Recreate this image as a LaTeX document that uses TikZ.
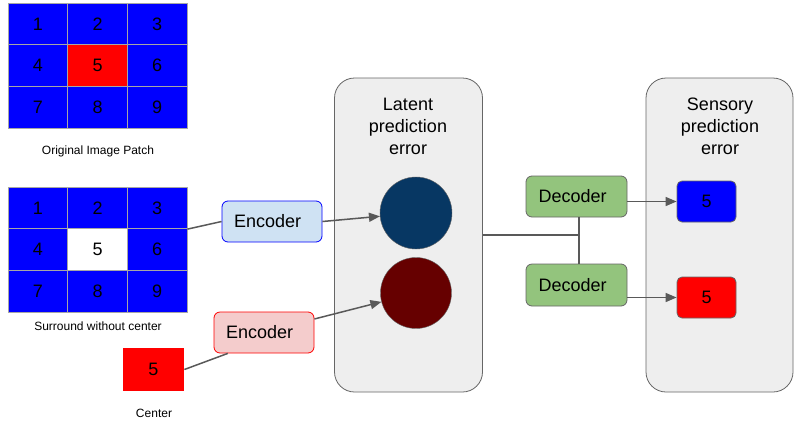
\documentclass[tikz,border=0pt]{standalone}
\usepackage{fontspec}
\setmainfont{Liberation Sans}
\usetikzlibrary{positioning}
\usetikzlibrary{arrows.meta}

\definecolor{encblue}{HTML}{CFE2F3}
\definecolor{encred}{HTML}{F4CCCC}
\definecolor{decgreen}{HTML}{93C47D}
\definecolor{darkblue}{HTML}{073763}
\definecolor{darkred}{HTML}{660000}
\definecolor{panelgray}{HTML}{EEEEEE}
\definecolor{linegray}{HTML}{595959}

\begin{document}
\begin{tikzpicture}[x=1pt,y=-1pt,
  cell/.style={draw=gray!70, line width=0.8pt, inner sep=0pt, minimum width=59.7pt, minimum height=41.7pt, font=\fontsize{18}{22}\selectfont},
  caption/.style={font=\fontsize{12}{14}\selectfont},
  block/.style={draw, rounded corners=6pt, line width=0.8pt, inner sep=0pt, minimum width=100pt, minimum height=41pt, text width=92pt, font=\fontsize{18}{22}\selectfont},
  panel/.style={draw=gray!80!black, fill=panelgray, rounded corners=20pt, line width=0.8pt, minimum width=148pt, minimum height=314pt},
  title/.style={align=center, font=\fontsize{18}{22}\selectfont},
  outbox/.style={draw=gray!80!black, rounded corners=5pt, line width=0.8pt, inner sep=0pt, minimum width=59pt, minimum height=41pt, font=\fontsize{18}{22}\selectfont},
  conn/.style={draw=linegray, line width=1.5pt},
  arr/.style={conn, -{Triangle[length=11pt,width=9pt]}}]

\useasboundingbox (0,0) rectangle (796,432);

% Original image patch
\foreach \n/\c in {1/blue,2/blue,3/blue,4/blue,5/red,6/blue,7/blue,8/blue,9/blue}{
  \pgfmathsetmacro\cx{8+59.7*(mod(\n-1,3)+0.5)}
  \pgfmathsetmacro\cy{3+41.7*(floor((\n-1)/3)+0.5)}
  \node[cell, fill=\c] (o\n) at (\cx,\cy) {\n};
}
\node[caption] (origlabel) at (98,151) {Original Image Patch};

% Surround without center
\foreach \n/\c in {1/blue,2/blue,3/blue,4/blue,5/white,6/blue,7/blue,8/blue,9/blue}{
  \pgfmathsetmacro\cx{8+59.7*(mod(\n-1,3)+0.5)}
  \pgfmathsetmacro\cy{187+41.7*(floor((\n-1)/3)+0.5)}
  \node[cell, fill=\c] (s\n) at (\cx,\cy) {\n};
}
\node[caption] (surrlabel) at (98,326) {Surround without center};

% Center patch
\node[cell, draw=none, fill=red, minimum width=61pt, minimum height=43pt] (cen) at (153.5,369.5) {5};
\node[caption] (cenlabel) at (154,413) {Center};

% Encoders
\node[block, draw=blue, fill=encblue] (enc1) at (272,221.5) {\hspace{8pt}Encoder};
\node[block, draw=red, fill=encred] (enc2) at (264,332.5) {\hspace{8pt}Encoder};

% Latent prediction error
\node[panel] (lat) at (408.5,235) {};
\node[title] (lattitle) at (408,126) {Latent\\prediction\\error};
\node[circle, draw=gray!80!black, fill=darkblue, minimum size=72pt, inner sep=0pt] (bluec) at (416,213) {};
\node[circle, draw=gray!80!black, fill=darkred, minimum size=71pt, inner sep=0pt] (redc) at (416,293) {};

% Sensory prediction error
\node[panel, minimum width=147pt] (sen) at (719.5,235) {};
\node[title] (sentitle) at (720,126) {Sensory\\prediction\\error};
\node[outbox, fill=blue] (out1) at (706.5,201.5) {5};
\node[outbox, fill=red] (out2) at (706.5,297.5) {5};

% Decoders
\node[block, draw=gray!80!black, fill=decgreen, minimum width=101pt] (dec1) at (576.5,196.5) {\hspace{8pt}Decoder};
\node[block, draw=gray!80!black, fill=decgreen, minimum width=101pt, minimum height=42pt] (dec2) at (576.5,285) {\hspace{8pt}Decoder};

% Connections
\draw[conn] (s3.south east) -- (enc1.west);
\draw[arr] (enc1.east) -- (bluec);
\draw[conn] (cen.east) -- (enc2.-150);
\draw[arr] (enc2.15) -- (redc);
\draw[conn] (lat.east) -- ([xshift=2.5pt]dec1.south |- lat.east);
\draw[conn] ([xshift=2.5pt]dec1.south) -- ([xshift=2.5pt]dec2.north);
\draw[arr] (dec1.east |- out1.west) -- (out1.west);
\draw[arr] (dec2.east |- out2.west) -- (out2.west);

\end{tikzpicture}
\end{document}
